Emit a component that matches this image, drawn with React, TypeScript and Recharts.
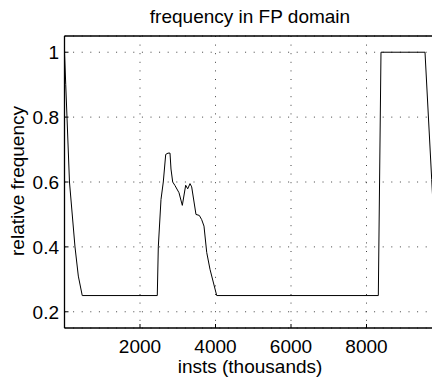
import React from 'react';
import { LineChart, Line, XAxis, YAxis, CartesianGrid, ReferenceLine } from 'recharts';

const instsThousands = [0, 33, 66, 132, 278, 366, 470, 2458, 2485, 2556, 2617, 2681, 2742, 2795, 2821, 2866, 2927, 3033, 3121, 3210, 3264, 3325, 3369, 3483, 3571, 3634, 3695, 3767, 3854, 4032, 8313, 8384, 9550, 9727, 9890, 10000];
const relFrequency = [1.0, 0.9, 0.8, 0.6, 0.4, 0.31, 0.25, 0.25, 0.40, 0.546, 0.60, 0.685, 0.689, 0.689, 0.64, 0.60, 0.589, 0.567, 0.528, 0.59, 0.579, 0.595, 0.585, 0.50, 0.497, 0.484, 0.464, 0.383, 0.331, 0.25, 0.25, 1.0, 1.0, 0.608, 0.25, 0.25];
const xTicks = [2000, 4000, 6000, 8000];
const yTicks = [0.2, 0.4, 0.6, 0.8, 1];
const xDomain = [0, 10000];
const yDomain = [0.15, 1.05];

const title = 'frequency in FP domain';
const xLabel = 'insts (thousands)';
const yLabel = 'relative frequency';

const data = instsThousands.map((x, i) => ({ x, y: relFrequency[i] }));

const FONT = '"Liberation Sans", Arial, Helvetica, sans-serif';
const FS = 19;

const XTick = (props: any) => {
  const { x, y, payload } = props;
  return (
    <g>
      <line x1={x} x2={x} y1={y} y2={y - 4} stroke="#000" strokeWidth={1} />
      <text x={x} y={y + 25} textAnchor="middle" fontFamily={FONT} fontSize={FS} fill="#000">
        {String(payload.value)}
      </text>
    </g>
  );
};

const YTick = (props: any) => {
  const { x, y, payload } = props;
  return (
    <g>
      <line x1={x} x2={x + 4} y1={y} y2={y} stroke="#000" strokeWidth={1} />
      <text x={x - 5.5} y={y + 6.8} textAnchor="end" fontFamily={FONT} fontSize={FS} fill="#000">
        {String(payload.value)}
      </text>
    </g>
  );
};

export default function App() {
  return (
    <div style={{ position: 'fixed', left: 0, top: 0, width: 432, height: 381, overflow: 'hidden', background: '#fff' }}>
      <LineChart
        width={470}
        height={381}
        data={data}
        margin={{ top: 36, right: 28, bottom: 0, left: 0 }}
        style={{ position: 'absolute', left: 0, top: 0 }}
      >
        <CartesianGrid stroke="#000" strokeDasharray="1 7.6" strokeOpacity={0.75} />
        <XAxis
          dataKey="x"
          type="number"
          domain={xDomain}
          ticks={xTicks}
          height={53}
          tickSize={0}
          tickMargin={0}
          tickLine={false}
          axisLine={{ stroke: '#000', strokeWidth: 1.3 }}
          tick={<XTick />}
          allowDataOverflow
          interval={0}
        />
        <YAxis
          type="number"
          domain={yDomain}
          ticks={yTicks}
          width={64.5}
          tickSize={0}
          tickMargin={0}
          tickLine={false}
          axisLine={{ stroke: '#000', strokeWidth: 1.3 }}
          tick={<YTick />}
          allowDataOverflow
          interval={0}
        />
        <ReferenceLine y={1.05} stroke="#000" strokeWidth={1.3} />
        <Line
          type="linear"
          dataKey="y"
          stroke="#000"
          strokeWidth={1}
          dot={false}
          isAnimationActive={false}
        />
      </LineChart>
      <svg width={432} height={381} style={{ position: 'absolute', left: 0, top: 0, pointerEvents: 'none' }}>
        <text x={250} y={23} textAnchor="middle" fontFamily={FONT} fontSize={FS} fill="#000">{title}</text>
        <text x={250} y={373} textAnchor="middle" fontFamily={FONT} fontSize={FS} fill="#000">{xLabel}</text>
        <text x={0} y={0} transform="translate(24,181) rotate(-90)" textAnchor="middle" fontFamily={FONT} fontSize={FS} fill="#000">{yLabel}</text>
      </svg>
    </div>
  );
}
